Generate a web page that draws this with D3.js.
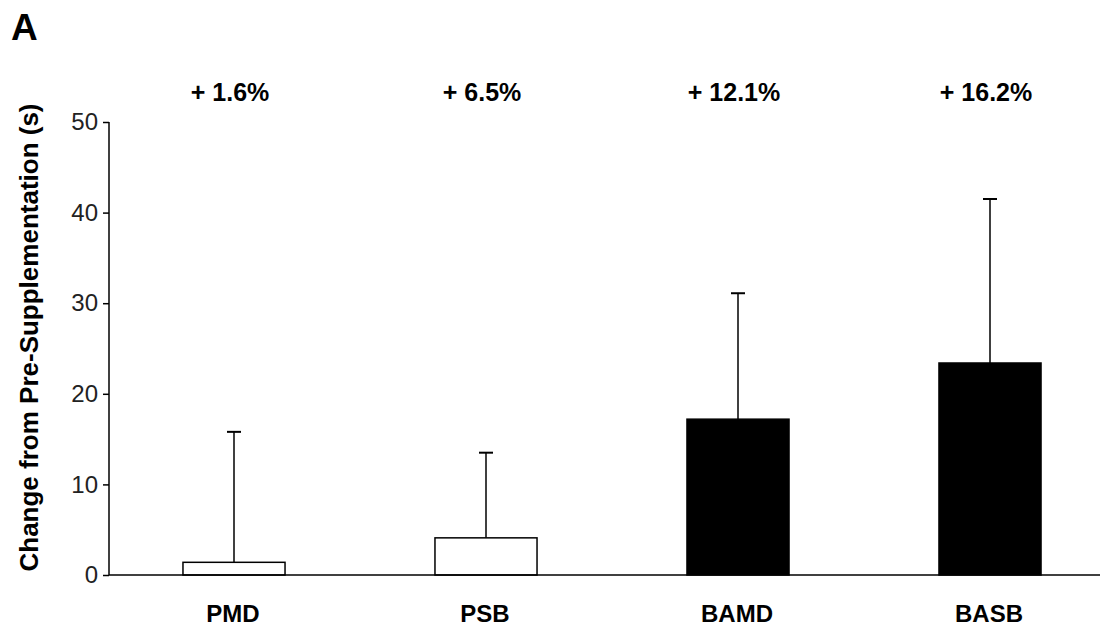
<!DOCTYPE html>
<html>
<head>
<meta charset="utf-8">
<script src="https://cdn.jsdelivr.net/npm/d3@7"></script>
<style>
  html, body { margin: 0; padding: 0; background: #fff; }
  svg { display: block; font-family: "Liberation Sans", Arial, sans-serif; }
</style>
</head>
<body>
<svg id="chart" width="1100" height="631"></svg>
<script>
const categories = ["PMD", "PSB", "BAMD", "BASB"];
const means = [1.4, 4.1, 17.2, 23.4];
const errors = [14.4, 9.4, 13.9, 18.1];
const percentLabels = ["+ 1.6%", "+ 6.5%", "+ 12.1%", "+ 16.2%"];
const barFills = ["#ffffff", "#ffffff", "#000000", "#000000"];
const yTicks = [0, 10, 20, 30, 40, 50];

const svg = d3.select("#chart");
const axisX = 109, baseY = 575, topY = 122, rightX = 1100;

const x = d3.scaleBand().domain(categories).range([108, 1116]).paddingInner(0.595).paddingOuter(0.2975);
const y = d3.scaleLinear().domain([0, 50]).range([baseY, topY]);

// Panel letter
svg.append("text").attr("x", 11).attr("y", 40)
  .attr("font-size", 37).attr("font-weight", "bold").text("A");

// Y axis
const yAxis = d3.axisLeft(y).tickValues(yTicks).tickSize(6).tickPadding(5);
const gy = svg.append("g").attr("transform", `translate(${axisX},0)`).call(yAxis);
gy.select(".domain").remove();
gy.selectAll(".tick line").attr("stroke", "#000").attr("stroke-width", 1.5);
gy.selectAll(".tick text").attr("font-size", 24).attr("fill", "#222")
  .attr("font-family", "'Liberation Sans', Arial, sans-serif");
svg.append("line").attr("x1", axisX).attr("x2", axisX).attr("y1", topY).attr("y2", baseY)
  .attr("stroke", "#000").attr("stroke-width", 1.5);

// Y title
svg.append("text")
  .attr("transform", `translate(38,${(103 + 572) / 2}) rotate(-90)`)
  .attr("text-anchor", "middle").attr("font-size", 26).attr("font-weight", "bold")
  .text("Change from Pre-Supplementation (s)");

// Error bars
const eb = svg.append("g");
categories.forEach((c, i) => {
  const cx = x(c) + x.bandwidth() / 2;
  eb.append("line").attr("x1", cx).attr("x2", cx).attr("y1", y(means[i])).attr("y2", y(means[i] + errors[i]))
    .attr("stroke", "#000").attr("stroke-width", 1.5);
  eb.append("line").attr("x1", cx - 7).attr("x2", cx + 7).attr("y1", y(means[i] + errors[i])).attr("y2", y(means[i] + errors[i]))
    .attr("stroke", "#000").attr("stroke-width", 2);
});

// Bars
svg.append("g").selectAll("rect").data(categories).join("rect")
  .attr("x", d => x(d)).attr("width", x.bandwidth())
  .attr("y", (d, i) => y(means[i])).attr("height", (d, i) => baseY - y(means[i]))
  .attr("fill", (d, i) => barFills[i]).attr("stroke", "#000").attr("stroke-width", 1.5);

// X axis baseline
svg.append("line").attr("x1", axisX).attr("x2", rightX).attr("y1", baseY).attr("y2", baseY)
  .attr("stroke", "#000").attr("stroke-width", 1.5);

// Category labels
svg.append("g").selectAll("text").data(categories).join("text")
  .attr("x", d => x(d) + x.bandwidth() / 2 - 1).attr("y", 622)
  .attr("text-anchor", "middle").attr("font-size", 24).attr("font-weight", "bold")
  .text(d => d);

// Percent labels
svg.append("g").selectAll("text").data(categories).join("text")
  .attr("x", d => x(d) + x.bandwidth() / 2 - 4).attr("y", 101)
  .attr("text-anchor", "middle").attr("font-size", 25).attr("font-weight", "bold")
  .text((d, i) => percentLabels[i]);
</script>
</body>
</html>
